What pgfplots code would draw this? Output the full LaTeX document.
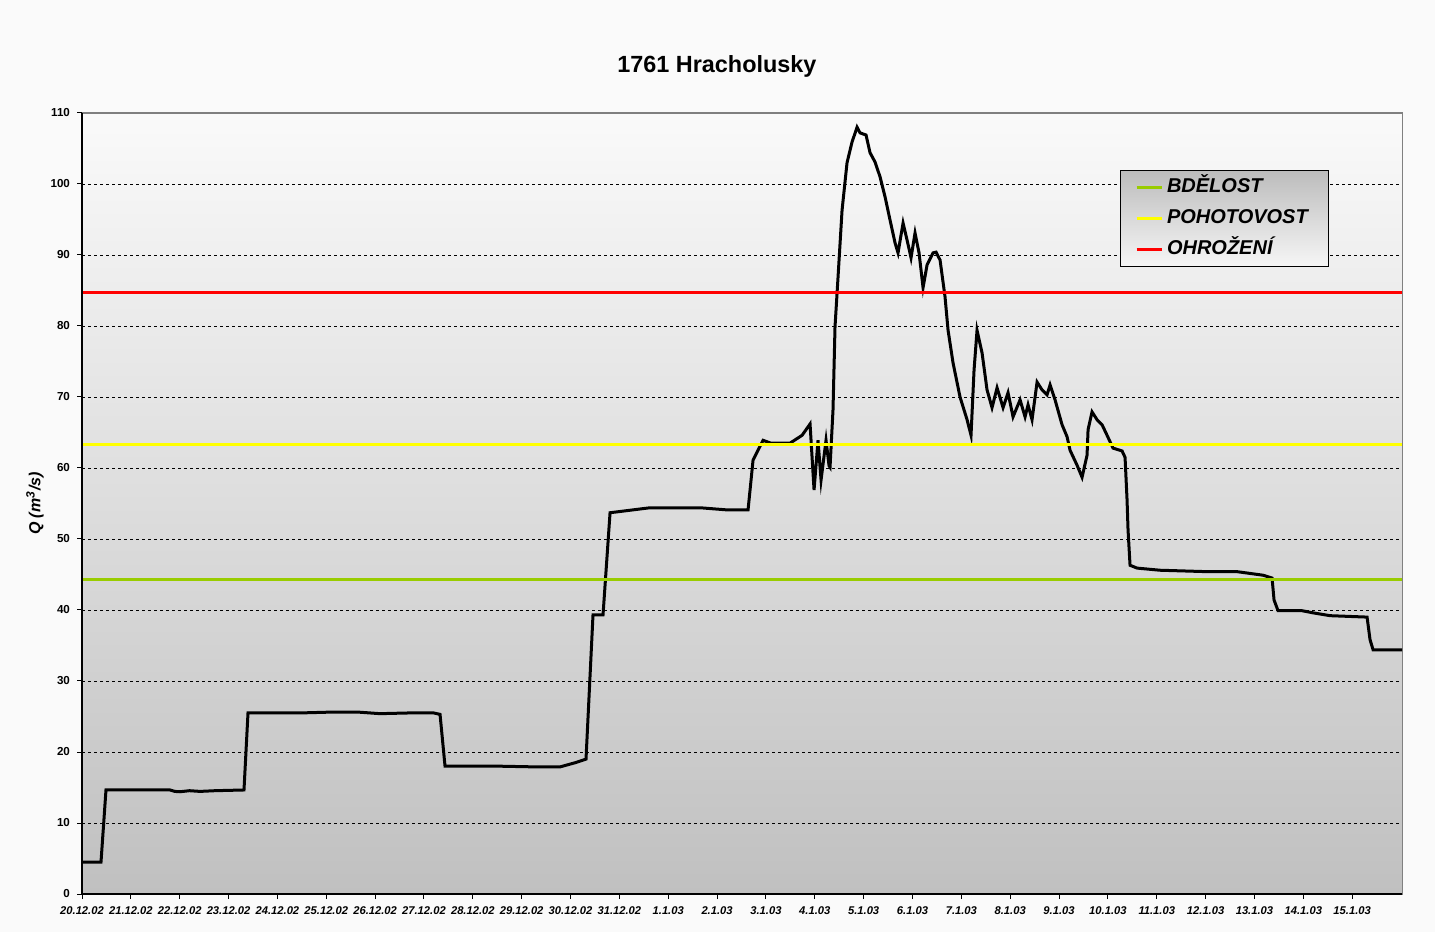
\documentclass[border=0pt]{standalone}
\usepackage{fontspec}
\setmainfont{Liberation Sans}
\usepackage{pgfplots}
\pgfplotsset{compat=1.18}
\definecolor{pagebg}{RGB}{250,250,250}
\definecolor{plottop}{RGB}{250,250,250}
\definecolor{plotbot}{RGB}{192,192,192}
\definecolor{lgtop}{RGB}{188,188,188}
\definecolor{lgbot}{RGB}{246,246,246}
\definecolor{bdgreen}{RGB}{153,204,0}
\definecolor{poyellow}{RGB}{255,255,0}
\definecolor{ohred}{RGB}{255,0,0}
\definecolor{bordergray}{RGB}{128,128,128}
\begin{document}
\begin{tikzpicture}
\fill[pagebg] (-41pt,-19pt) rectangle (676.5pt,447pt);
\begin{axis}[
  at={(0,0)}, anchor=south west,
  scale only axis, clip=false,
  width=660pt, height=390.5pt,
  xmin=0, xmax=27.02, ymin=0, ymax=110,
  xtick={0,1,...,26},
  xticklabels={20.12.02,21.12.02,22.12.02,23.12.02,24.12.02,25.12.02,26.12.02,27.12.02,28.12.02,29.12.02,30.12.02,31.12.02,1.1.03,2.1.03,3.1.03,4.1.03,5.1.03,6.1.03,7.1.03,8.1.03,9.1.03,10.1.03,11.1.03,12.1.03,13.1.03,14.1.03,15.1.03},
  ytick={0,10,...,110},
  /pgf/number format/assume math mode=true,
  xticklabel style={font=\fontsize{5.6}{6}\selectfont\bfseries\itshape, yshift=-0.5pt},
  yticklabel style={font=\fontsize{5.8}{6.5}\selectfont\bfseries},
  tick pos=left,
  tick align=outside,
  major tick length=2.5pt,
  tick style={black, line width=0.5pt},
  ymajorgrids,
  major grid style={black, line width=0.4pt, dash pattern=on 1.5pt off 1.5pt},
  axis line style={draw=bordergray, line width=0.5pt},
  axis background/.style={top color=plottop, bottom color=plotbot},
  ylabel={\bfseries\itshape Q (m\textsuperscript{3}/s)},
  every axis y label/.style={at={(axis description cs:0,0.5)}, xshift=-23.5pt, rotate=90, anchor=center, font=\fontsize{8}{9}\selectfont},
  legend style={at={(0.786,0.927)}, anchor=north west, draw=black, line width=0.5pt,
    top color=lgtop, bottom color=lgbot,
    font=\fontsize{10}{11}\selectfont\bfseries\itshape,
    inner xsep=7.5pt, inner ysep=2pt, row sep=2.5pt,
    nodes={inner ysep=1pt, text height=8pt, text depth=3pt},
    text width=71pt},
  legend cell align=left,
  legend image code/.code={\draw[#1, line width=1.5pt] (0pt,0pt) -- (12.5pt,0pt);},
]
\addplot[black, line width=1.5pt, forget plot] table {
x y
0 4.5
0.389 4.5
0.491 14.65
1.801 14.65
1.9 14.45
2.006 14.4
2.2 14.55
2.416 14.45
2.723 14.55
3.316 14.65
3.398 25.5
4.463 25.5
5.0 25.6
5.691 25.6
6.100 25.4
6.7 25.5
7.2 25.5
7.329 25.3
7.431 18.0
8.557 18.0
9.3 17.9
9.785 17.9
10.1 18.5
10.317 19.0
10.460 39.3
10.665 39.3
10.809 53.7
11.628 54.4
12.651 54.4
13.2 54.1
13.634 54.1
13.736 61.1
13.838 62.5
13.941 63.9
14.1 63.5
14.493 63.5
14.739 64.6
14.903 66.2
14.985 56.9
15.066 63.9
15.128 58.3
15.230 63.9
15.292 60.3
15.312 60.1
15.373 68.2
15.414 79.9
15.476 86.9
15.558 96.3
15.660 103.0
15.762 105.9
15.865 108.0
15.926 107.2
16.049 106.9
16.131 104.4
16.233 103.1
16.336 101.0
16.438 98.2
16.541 94.9
16.643 91.7
16.704 90.3
16.807 94.5
16.889 92.1
16.970 89.6
17.052 93.1
17.134 90.3
17.216 85.4
17.298 88.6
17.421 90.3
17.482 90.4
17.564 89.3
17.666 84.1
17.728 79.4
17.830 74.8
17.973 70.0
18.117 66.8
18.198 64.6
18.260 73.8
18.321 79.4
18.424 76.2
18.526 71.0
18.628 68.5
18.731 71.3
18.854 68.5
18.956 70.6
19.058 67.2
19.202 69.6
19.304 67.2
19.365 68.9
19.447 66.8
19.550 72.1
19.652 71.0
19.754 70.3
19.816 71.7
19.918 69.6
20.061 66.1
20.164 64.4
20.225 62.5
20.368 60.4
20.471 58.7
20.573 61.8
20.594 65.4
20.675 67.9
20.778 66.8
20.880 66.1
20.983 64.6
21.105 62.8
21.290 62.4
21.351 61.5
21.392 55.5
21.412 51.3
21.453 46.3
21.597 45.9
22.068 45.6
23.030 45.4
23.644 45.4
24.176 44.9
24.360 44.5
24.401 41.4
24.483 39.9
24.974 39.9
25.200 39.6
25.548 39.2
26.305 39.0
26.366 35.8
26.428 34.4
27.021 34.4
};
\addplot[bdgreen, line width=1.5pt] coordinates {(0,44.35) (27.02,44.35)};
\addlegendentry{BDĚLOST}
\addplot[poyellow, line width=1.5pt] coordinates {(0,63.35) (27.02,63.35)};
\addlegendentry{POHOTOVOST}
\addplot[ohred, line width=1.5pt] coordinates {(0,84.65) (27.02,84.65)};
\addlegendentry{OHROŽENÍ}
\draw[bordergray, line width=0.6pt] (rel axis cs:0,1) -- (rel axis cs:1,1);
\draw[black, line width=0.8pt] (rel axis cs:0,0) -- (rel axis cs:1,0);
\draw[black, line width=0.8pt] (rel axis cs:0,0) -- (rel axis cs:0,1);
\node[font=\fontsize{11.7}{13}\selectfont\bfseries] at (rel axis cs:0.481,1) [yshift=23.5pt] {1761 Hracholusky};
\end{axis}
\pgfresetboundingbox
\path[use as bounding box] (-41pt,-19pt) rectangle (676.5pt,447pt);
\end{tikzpicture}
\end{document}
